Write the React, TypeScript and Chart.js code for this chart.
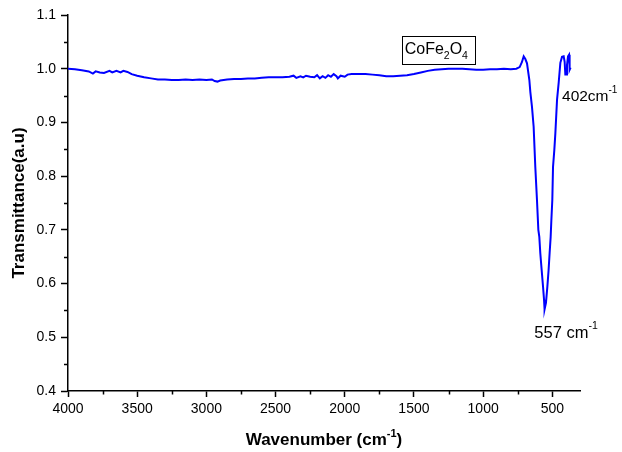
import React, { useEffect, useRef } from "react";
import { Chart, registerables } from "chart.js";

Chart.register(...registerables);

const wavenumbers: number[] = [
  4000, 3950, 3900, 3850, 3820, 3800, 3770, 3740, 3700, 3680, 3650, 3620, 3600, 3570, 3540, 3500,
  3450, 3400, 3350, 3300, 3250, 3200, 3150, 3100, 3050, 3000, 2960, 2940, 2920, 2900, 2850, 2800,
  2750, 2700, 2650, 2600, 2550, 2500, 2450, 2400, 2370, 2350, 2320, 2300, 2280, 2250, 2220, 2200,
  2180, 2160, 2140, 2120, 2100, 2080, 2060, 2050, 2030, 2000, 1980, 1950, 1900, 1850, 1800, 1750,
  1700, 1650, 1600, 1550, 1500, 1450, 1400, 1350, 1300, 1250, 1200, 1150, 1100, 1050, 1000, 950,
  900, 850, 800, 760, 736, 720, 707, 695, 683, 666, 659, 647, 635, 623, 611, 601, 594, 587, 577,
  567, 560, 556, 546, 536, 527, 519.5, 512, 507, 500, 495, 485.5, 478, 466, 454, 442, 430, 418,
  411, 406, 399, 394, 386.5, 379, 375, 368,
];

const transmittance: number[] = [
  1.0, 0.999, 0.997, 0.995, 0.991, 0.995, 0.993, 0.992, 0.996, 0.993, 0.996, 0.993, 0.996, 0.994, 0.99, 0.987,
  0.984, 0.982, 0.98, 0.98, 0.979, 0.979, 0.98, 0.979, 0.98, 0.979, 0.98, 0.977, 0.976, 0.978, 0.98, 0.981,
  0.981, 0.982, 0.982, 0.983, 0.984, 0.984, 0.984, 0.985, 0.987, 0.983, 0.986, 0.984, 0.987, 0.985, 0.984, 0.988,
  0.982, 0.986, 0.983, 0.988, 0.985, 0.99, 0.986, 0.982, 0.987, 0.985, 0.989, 0.99, 0.99, 0.99, 0.989, 0.988,
  0.986, 0.986, 0.987, 0.988, 0.99, 0.993, 0.996, 0.998, 0.999, 1.0, 1.0, 1.0, 0.999, 0.998, 0.998, 0.999,
  0.999, 1.0, 0.999, 1.0, 1.003, 1.012, 1.023, 1.018, 1.01, 0.979, 0.957, 0.929, 0.892, 0.817, 0.756, 0.7, 0.687, 0.657, 0.625,
  0.594, 0.57, 0.552, 0.564, 0.594, 0.625, 0.657, 0.687, 0.718, 0.756, 0.817, 0.849, 0.88, 0.942, 0.974, 1.011, 1.022, 1.023,
  1.013, 0.989, 0.989, 1.007, 1.023, 1.026, 0.998, 1.002,
];

const xTickValues: number[] = [4000, 3500, 3000, 2500, 2000, 1500, 1000, 500];
const xMinorValues: number[] = [3750, 3250, 2750, 2250, 1750, 1250, 750];
const yMinorValues: number[] = [0.45, 0.55, 0.65, 0.75, 0.85, 0.95, 1.05];

const FONT = "'Liberation Sans', Arial, sans-serif";

type Run = { t: string; size: number; bold?: boolean; dy?: number };

function runsWidth(ctx: CanvasRenderingContext2D, runs: Run[]) {
  let w = 0;
  for (const r of runs) {
    ctx.font = `${r.bold ? "bold " : ""}${r.size}px ${FONT}`;
    w += ctx.measureText(r.t).width;
  }
  return w;
}

function drawRuns(ctx: CanvasRenderingContext2D, x: number, y: number, runs: Run[]) {
  let cx = x;
  ctx.textBaseline = "alphabetic";
  ctx.textAlign = "left";
  for (const r of runs) {
    ctx.font = `${r.bold ? "bold " : ""}${r.size}px ${FONT}`;
    ctx.fillText(r.t, cx, y + (r.dy || 0));
    cx += ctx.measureText(r.t).width;
  }
  return cx;
}

const decorPlugin = {
  id: "decor",
  afterDraw(chart: any) {
    const ctx: CanvasRenderingContext2D = chart.ctx;
    const xs = chart.scales.x;
    const ys = chart.scales.y;
    const area = chart.chartArea;
    ctx.save();
    ctx.strokeStyle = "#000";
    ctx.lineWidth = 1.5;
    // minor ticks
    ctx.beginPath();
    for (const v of xMinorValues) {
      const px = Math.round(xs.getPixelForValue(v)) + 0.5;
      ctx.moveTo(px, area.bottom);
      ctx.lineTo(px, area.bottom + 3.5);
    }
    for (const v of yMinorValues) {
      const py = Math.round(ys.getPixelForValue(v)) + 0.5;
      ctx.moveTo(area.left, py);
      ctx.lineTo(area.left - 4, py);
    }
    ctx.stroke();

    ctx.fillStyle = "#000";
    // axis titles
    const xt: Run[] = [
      { t: "Wavenumber (cm", size: 17, bold: true },
      { t: "-1", size: 11, bold: true, dy: -8 },
      { t: ")", size: 17, bold: true },
    ];
    const xw = runsWidth(ctx, xt);
    const xc = (area.left + area.right) / 2;
    drawRuns(ctx, xc - xw / 2, 445, xt);

    ctx.save();
    ctx.translate(24, (area.top + area.bottom) / 2);
    ctx.rotate(-Math.PI / 2);
    const yt: Run[] = [{ t: "Transmittance(a.u)", size: 17, bold: true }];
    const yw = runsWidth(ctx, yt);
    drawRuns(ctx, -yw / 2, 0, yt);
    ctx.restore();

    // CoFe2O4 box
    const bx1 = xs.getPixelForValue(1585);
    const bx2 = xs.getPixelForValue(1057);
    const by1 = ys.getPixelForValue(1.0611);
    const by2 = ys.getPixelForValue(1.0099);
    ctx.lineWidth = 1;
    ctx.strokeRect(Math.round(bx1) + 0.5, Math.round(by1) + 0.5, Math.round(bx2 - bx1), Math.round(by2 - by1));
    const cRuns: Run[] = [
      { t: "CoFe", size: 16 },
      { t: "2", size: 10.5, dy: 5 },
      { t: "O", size: 16 },
      { t: "4", size: 10.5, dy: 5 },
    ];
    drawRuns(ctx, bx1 + 2.5, ys.getPixelForValue(1.0276), cRuns);

    // peak labels
    drawRuns(ctx, xs.getPixelForValue(430), ys.getPixelForValue(0.9406), [
      { t: "402cm", size: 15.5 },
      { t: "-1", size: 10, dy: -8 },
    ]);
    drawRuns(ctx, xs.getPixelForValue(630), ys.getPixelForValue(0.4993), [
      { t: "557 cm", size: 16.5 },
      { t: "-1", size: 10.5, dy: -8.5 },
    ]);
    ctx.restore();
  },
};

export default function App() {
  const ref = useRef<HTMLCanvasElement | null>(null);
  useEffect(() => {
    if (!ref.current) return;
    const data = wavenumbers.map((x, i) => ({ x, y: transmittance[i] }));
    const chart = new Chart(ref.current, {
      type: "line",
      data: {
        datasets: [
          {
            data,
            borderColor: "rgb(0,0,255)",
            borderWidth: 2,
            pointRadius: 0,
            tension: 0,
            fill: false,
          },
        ],
      },
      options: {
        animation: false,
        responsive: false,
        maintainAspectRatio: false,
        layout: { padding: { top: 15, right: 42, left: 0, bottom: 0 } },
        plugins: { legend: { display: false }, tooltip: { enabled: false }, title: { display: false } },
        scales: {
          x: {
            type: "linear",
            reverse: true,
            min: 300,
            max: 4000,
            afterFit: (s: any) => {
              s.height = 61;
            },
            afterBuildTicks: (s: any) => {
              s.ticks = xTickValues.map((v) => ({ value: v }));
            },
            ticks: {
              includeBounds: false,
              autoSkip: false,
              maxRotation: 0,
              padding: 4,
              color: "#000",
              font: { family: FONT, size: 14 },
              callback: (v: any) => String(v),
            },
            grid: { drawOnChartArea: false, drawTicks: true, tickLength: 6, tickColor: "#000", tickWidth: 1.5 },
            border: { display: true, color: "#000", width: 1.5 },
          },
          y: {
            type: "linear",
            min: 0.4,
            max: 1.1,
            afterFit: (s: any) => {
              s.width = 68;
            },
            ticks: {
              stepSize: 0.1,
              padding: 5,
              color: "#000",
              font: { family: FONT, size: 14 },
              callback: (v: any) => Number(v).toFixed(1),
            },
            grid: { drawOnChartArea: false, drawTicks: true, tickLength: 7, tickColor: "#000", tickWidth: 1.5 },
            border: { display: true, color: "#000", width: 1.5 },
          },
        },
      },
      plugins: [decorPlugin],
    } as any);
    return () => chart.destroy();
  }, []);
  return (
    <div style={{ position: "fixed", left: 0, top: 0, width: 622, height: 452, background: "#fff" }}>
      <canvas ref={ref} width={622} height={452} />
    </div>
  );
}
